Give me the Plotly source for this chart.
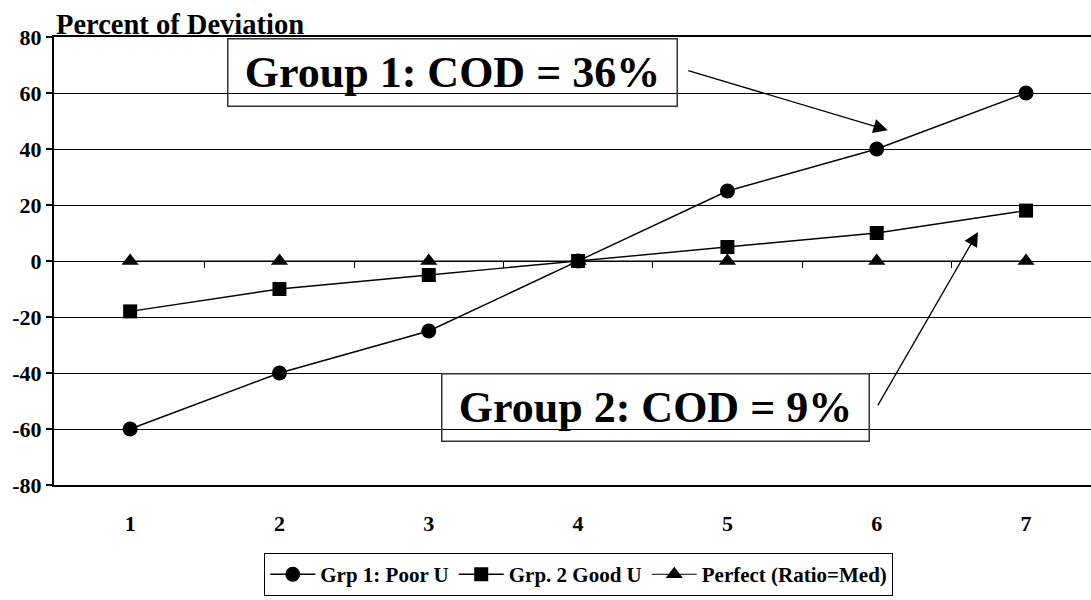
import plotly.graph_objects as go

# Observation index along the x axis
positions = [1, 2, 3, 4, 5, 6, 7]
x_tick_labels = ["1", "2", "3", "4", "5", "6", "7"]

# Percent deviation from the median ratio
grp1_poor = [-60, -40, -25, 0, 25, 40, 60]
grp2_good = [-18, -10, -5, 0, 5, 10, 18]
perfect = [0, 0, 0, 0, 0, 0, 0]

y_ticks = [-80, -60, -40, -20, 0, 20, 40, 60, 80]
y_tick_labels = ["-80", "-60", "-40", "-20", "0", "20", "40", "60", "80"]
category_edges = [1.5, 2.5, 3.5, 4.5, 5.5, 6.5]

FONT = "Liberation Serif"
LINE = dict(color="black", width=1.4)

fig = go.Figure()
fig.add_trace(go.Scatter(
    x=positions, y=grp1_poor, mode="lines+markers", name="Grp 1: Poor U",
    line=LINE, marker=dict(symbol="circle", size=15, color="black"),
))
fig.add_trace(go.Scatter(
    x=positions, y=grp2_good, mode="lines+markers", name="Grp. 2 Good U",
    line=LINE, marker=dict(symbol="square", size=14, color="black"),
))
fig.add_trace(go.Scatter(
    x=positions, y=perfect, mode="lines+markers", name="Perfect (Ratio=Med)",
    line=dict(color="black", width=1.2),
    marker=dict(symbol="triangle-up", size=15, color="black"),
))
# carrier for the category tick marks on the zero line
fig.add_trace(go.Scatter(
    x=category_edges, y=[0] * len(category_edges), xaxis="x2", mode="none",
    showlegend=False, hoverinfo="skip",
))

x_range = [0.49, 7.435]

fig.update_layout(
    width=1091, height=600,
    paper_bgcolor="white", plot_bgcolor="white",
    margin=dict(l=54, r=0, t=37, b=115),
    font=dict(family=FONT, color="black", weight="bold"),
    xaxis=dict(
        range=x_range, tickvals=positions, ticktext=x_tick_labels,
        ticks="", showgrid=False, zeroline=False,
        showline=True, linecolor="black", linewidth=2, mirror=True,
        tickfont=dict(size=22, family=FONT, weight="bold"),
        ticklabelstandoff=18,
    ),
    xaxis2=dict(
        range=x_range, overlaying="x", anchor="free", position=0.5,
        tickvals=category_edges, showticklabels=False,
        ticks="outside", ticklen=6, tickwidth=1, tickcolor="black",
        showgrid=False, zeroline=False, showline=False,
    ),
    yaxis=dict(
        range=[-80, 80], tickvals=y_ticks, ticktext=y_tick_labels,
        ticks="outside", ticklen=6, tickwidth=1.5, tickcolor="black",
        showgrid=True, gridcolor="black", gridwidth=1,
        zeroline=True, zerolinecolor="black", zerolinewidth=1.2,
        showline=True, linecolor="black", linewidth=2,
        tickfont=dict(size=22, family=FONT, weight="bold"),
    ),
    legend=dict(
        orientation="h", x=0.506, xanchor="center", y=-0.248, yanchor="bottom",
        bordercolor="black", borderwidth=1,
        font=dict(size=21, family=FONT, weight="bold"),
        itemwidth=45, tracegroupgap=0,
    ),
    showlegend=True,
)

# chart title over the y axis
fig.add_annotation(
    text="Percent of Deviation", xref="paper", yref="paper",
    x=0, y=1, xanchor="left", yanchor="bottom", yshift=-5, showarrow=False,
    font=dict(size=28.5, family=FONT, weight="bold"),
)

# COD call-outs
fig.add_annotation(
    text="Group 1: COD = 36%", xref="paper", yref="paper",
    x=0.384, y=0.92, xanchor="center", yanchor="middle", showarrow=False,
    width=448, height=66, bordercolor="#333", borderwidth=1.5, borderpad=0,
    font=dict(size=44, family=FONT, weight="bold"),
)
fig.add_annotation(
    text="Group 2: COD = 9%", xref="paper", yref="paper",
    x=0.5805, y=0.174, xanchor="center", yanchor="middle", showarrow=False,
    width=426, height=66, bordercolor="#333", borderwidth=1.5, borderpad=0,
    font=dict(size=44, family=FONT, weight="bold"),
)

# pointer arrows from the call-outs toward the series
fig.add_annotation(
    text="", xref="paper", yref="paper", x=0.804, y=0.792,
    ax=-201, ay=-60, showarrow=True,
    arrowhead=2, arrowsize=2.2, arrowwidth=1.3, arrowcolor="black",
)
fig.add_annotation(
    text="", xref="paper", yref="paper", x=0.891, y=0.565,
    ax=-101, ay=175, showarrow=True,
    arrowhead=2, arrowsize=2.2, arrowwidth=1.3, arrowcolor="black",
)

fig.write_html("out.html")
